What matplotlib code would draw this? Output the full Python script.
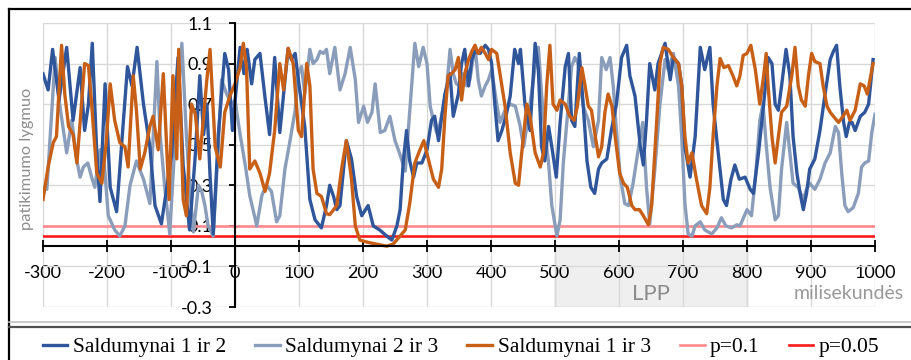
import matplotlib
matplotlib.use("Agg")
import matplotlib.pyplot as plt
from matplotlib.lines import Line2D
from matplotlib.patches import Rectangle
import numpy as np

# laikas (ms) ir patikimumo lygmuo kiekvienai porai
t12 = [-300, -292, -285, -275, -263, -253, -242, -235, -229, -223, -216, -211, -203, -195, -185,
       -168, -161, -153, -143, -133, -125, -115, -99, -89, -81, -71, -62, -55, -49, -44, -39, -34,
       -26, -16, -10, -4, 2, 8, 14, 19, 26, 31, 39, 47, 54, 62, 70, 83, 88, 94, 99, 109, 117, 125,
       135, 143, 148, 154, 159, 164, 174, 182, 190, 198, 208, 216, 226, 237, 245, 253, 258, 263,
       268, 273, 279, 284, 292, 300, 307, 312, 318, 323, 328, 336, 341, 349, 354, 359, 365, 370,
       375, 383, 391, 396, 401, 406, 411, 417, 424, 430, 437, 443, 446, 453, 461, 469, 474, 479,
       484, 490, 495, 502, 508, 516, 521, 526, 531, 538, 544, 550, 556, 562, 568, 573, 581, 588,
       596, 604, 612, 617, 625, 633, 638, 643, 648, 656, 661, 672, 680, 685, 693, 698, 703, 711,
       719, 727, 734, 742, 747, 755, 763, 768, 775, 781, 788, 797, 805, 810, 818, 826, 833, 839,
       844, 849, 854, 861, 867, 872, 878, 883, 888, 893, 898, 906, 914, 922, 930, 935, 940, 945,
       951, 955, 960, 964, 969, 977, 984, 990, 997]
v12 = [0.85, 0.77, 0.97, 0.72, 0.98, 0.62, 0.88, 0.57, 0.70, 1.00, 0.46, 0.22, 0.80, 0.29, 0.17,
       0.885, 0.79, 0.98, 0.70, 0.49, 0.20, 0.11, 0.45, 0.93, 0.40, 0.08, 0.45, 0.84, 0.55, 0.70,
       0.35, 0.06, 0.55, 0.95, 0.87, 0.57, 0.78, 0.98, 0.85, 0.97, 0.80, 0.92, 0.95, 0.73, 0.55,
       0.93, 0.56, 0.975, 0.92, 0.95, 0.82, 0.59, 0.23, 0.13, 0.09, 0.20, 0.30, 0.245, 0.18, 0.20,
       0.52, 0.43, 0.245, 0.15, 0.20, 0.10, 0.08, 0.05, 0.03, 0.10, 0.18, 0.42, 0.57, 0.42, 0.34,
       0.41, 0.41, 0.475, 0.62, 0.64, 0.52, 0.64, 0.75, 0.85, 0.64, 0.75, 0.90, 0.97, 0.79, 0.92,
       0.96, 0.95, 0.99, 0.97, 0.90, 0.70, 0.52, 0.57, 0.65, 0.74, 0.97, 0.90, 0.97, 0.70, 0.57,
       1.00, 0.87, 0.49, 0.42, 0.59, 0.49, 0.34, 0.61, 0.885, 0.95, 0.62, 0.59, 0.95, 0.70, 0.42,
       0.29, 0.26, 0.38, 0.41, 0.43, 0.57, 0.70, 0.93, 0.99, 0.84, 0.74, 0.50, 0.40, 0.62, 0.90,
       0.77, 0.90, 1.00, 0.82, 0.93, 0.90, 0.79, 0.49, 0.34, 0.54, 0.98, 0.87, 0.98, 0.70, 0.46,
       0.23, 0.20, 0.33, 0.40, 0.33, 0.34, 0.28, 0.26, 0.46, 0.70, 0.93, 0.90, 0.70, 0.67, 0.79,
       0.97, 0.84, 0.54, 0.36, 0.26, 0.18, 0.26, 0.38, 0.43, 0.57, 0.75, 0.92, 0.96, 0.99, 0.79,
       0.61, 0.54, 0.61, 0.61, 0.57, 0.64, 0.66, 0.70, 0.92]

t23 = [-300, -294, -281, -274, -263, -255, -247, -242, -237, -230, -224, -219, -211, -206, -198,
       -188, -180, -172, -164, -154, -143, -133, -122, -117, -110, -102, -94, -83, -76, -70, -65,
       -57, -52, -47, -42, -34, -26, -21, -13, -5, 0, 8, 16, 23, 34, 42, 49, 57, 65, 70, 78, 86, 94,
       99, 104, 109, 117, 122, 128, 133, 138, 143, 148, 156, 164, 172, 180, 188, 193, 201, 207,
       214, 219, 227, 234, 242, 250, 258, 266, 276, 281, 287, 294, 300, 305, 310, 315, 320, 326,
       331, 336, 341, 346, 352, 357, 362, 367, 375, 380, 385, 391, 396, 401, 409, 414, 422, 430,
       438, 445, 451, 456, 461, 469, 474, 479, 484, 490, 495, 503, 508, 513, 521, 526, 531, 536,
       544, 552, 560, 568, 573, 580, 586, 591, 596, 602, 609, 615, 622, 630, 637, 643, 648, 656,
       664, 672, 677, 685, 693, 698, 703, 708, 714, 719, 727, 734, 745, 753, 760, 767, 776, 784,
       789, 800, 807, 813, 820, 825, 830, 836, 844, 849, 854, 862, 867, 872, 880, 888, 893, 898,
       906, 914, 922, 930, 938, 943, 948, 953, 958, 966, 974, 979, 984, 990, 995, 1000]
v23 = [0.29, 0.28, 0.93, 0.70, 0.46, 0.62, 0.42, 0.34, 0.39, 0.41, 0.34, 0.29, 0.475, 0.475, 0.15,
       0.08, 0.05, 0.10, 0.30, 0.42, 0.33, 0.21, 0.91, 0.55, 0.30, 0.06, 0.50, 1.00, 0.55, 0.25,
       0.07, 0.30, 0.27, 0.20, 0.10, 0.05, 0.50, 0.82, 0.75, 0.70, 0.72, 0.55, 0.40, 0.25, 0.10,
       0.25, 0.30, 0.27, 0.12, 0.15, 0.38, 0.52, 0.67, 0.85, 0.885, 0.75, 0.97, 0.90, 0.92, 0.96,
       0.95, 0.97, 0.85, 0.98, 0.77, 0.85, 0.98, 0.82, 0.61, 0.69, 0.61, 0.66, 0.80, 0.56, 0.57,
       0.64, 0.52, 0.45, 0.37, 0.79, 1.00, 0.885, 0.98, 0.90, 0.69, 0.62, 0.56, 0.60, 0.69, 0.79,
       0.97, 0.85, 0.80, 0.79, 0.85, 0.79, 0.82, 0.99, 0.82, 0.74, 0.79, 0.82, 0.87, 0.70, 0.61,
       0.67, 0.70, 0.69, 0.60, 0.49, 0.59, 0.70, 0.885, 0.98, 0.75, 0.57, 0.41, 0.20, 0.05, 0.13,
       0.41, 0.70, 0.885, 0.93, 0.90, 0.69, 0.62, 0.49, 0.62, 0.93, 0.87, 0.93, 0.79, 0.57, 0.34,
       0.21, 0.20, 0.31, 0.475, 0.61, 0.29, 0.11, 0.38, 0.70, 0.92, 0.87, 0.95, 0.79, 0.54, 0.21,
       0.06, 0.05, 0.10, 0.12, 0.08, 0.06, 0.09, 0.14, 0.10, 0.09, 0.105, 0.10, 0.18, 0.15, 0.33,
       0.62, 0.70, 0.50, 0.29, 0.13, 0.15, 0.38, 0.61, 0.46, 0.31, 0.29, 0.23, 0.28, 0.31, 0.28,
       0.33, 0.41, 0.46, 0.59, 0.56, 0.36, 0.20, 0.17, 0.19, 0.26, 0.39, 0.41, 0.42, 0.56, 0.65]

t13 = [-300, -292, -284, -279, -271, -266, -260, -253, -247, -242, -235, -229, -224, -216, -208,
       -201, -195, -188, -180, -172, -167, -159, -154, -148, -141, -133, -128, -120, -112, -103,
       -97, -91, -88, -81, -76, -68, -62, -55, -44, -39, -31, -23, -16, -8, 0, 8, 13, 18, 23, 31,
       39, 47, 54, 62, 70, 76, 83, 91, 99, 104, 112, 117, 122, 128, 135, 143, 148, 159, 167, 174,
       182, 188, 195, 206, 221, 237, 247, 258, 266, 273, 281, 289, 295, 302, 310, 318, 323, 328,
       333, 338, 344, 349, 354, 359, 365, 370, 375, 380, 385, 391, 396, 401, 409, 414, 422, 430,
       438, 443, 448, 456, 461, 469, 477, 482, 487, 492, 497, 503, 508, 516, 523, 530, 535, 542,
       547, 552, 557, 563, 568, 573, 578, 583, 589, 594, 601, 607, 613, 620, 625, 632, 638, 646,
       651, 659, 664, 669, 677, 685, 693, 698, 703, 708, 714, 721, 729, 737, 742, 747, 753, 758,
       764, 771, 778, 784, 789, 794, 800, 806, 813, 820, 826, 830, 833, 839, 844, 849, 854, 862,
       870, 875, 880, 885, 891, 896, 901, 906, 914, 919, 925, 930, 935, 943, 950, 956, 961, 969,
       977, 983, 988, 997]
v13 = [0.23, 0.39, 0.51, 0.54, 0.99, 0.75, 0.59, 0.55, 0.41, 0.61, 0.90, 0.89, 0.70, 0.36, 0.31,
       0.52, 0.80, 0.62, 0.51, 0.49, 0.39, 0.84, 0.67, 0.38, 0.46, 0.59, 0.64, 0.475, 0.85, 0.23,
       0.84, 0.43, 0.97, 0.23, 0.15, 0.70, 0.65, 0.43, 0.82, 0.97, 0.49, 0.39, 0.66, 0.74, 0.80,
       0.88, 1.00, 0.88, 0.38, 0.42, 0.36, 0.27, 0.36, 0.57, 0.90, 0.77, 0.975, 0.90, 0.57, 0.54,
       0.90, 0.79, 0.38, 0.26, 0.245, 0.16, 0.155, 0.20, 0.39, 0.52, 0.33, 0.10, 0.03, 0.02, 0.01,
       0.00, 0.01, 0.05, 0.08, 0.21, 0.41, 0.475, 0.52, 0.43, 0.33, 0.29, 0.38, 0.64, 0.84, 0.85,
       0.87, 0.93, 0.72, 0.85, 0.92, 0.96, 0.99, 0.95, 0.98, 0.95, 0.92, 0.97, 0.95, 0.85, 0.69,
       0.46, 0.31, 0.30, 0.46, 0.70, 0.64, 0.46, 0.39, 0.46, 0.79, 0.99, 0.70, 0.67, 0.72, 0.70,
       0.64, 0.62, 0.69, 0.88, 0.79, 0.69, 0.67, 0.54, 0.44, 0.49, 0.66, 0.75, 0.69, 0.54, 0.36,
       0.31, 0.29, 0.20, 0.18, 0.18, 0.15, 0.105, 0.20, 0.62, 0.90, 0.98, 0.97, 0.93, 0.90, 0.79,
       0.54, 0.41, 0.46, 0.33, 0.20, 0.16, 0.29, 0.54, 0.79, 0.925, 0.88, 0.89, 0.84, 0.79, 0.84,
       0.94, 0.95, 0.99, 0.87, 0.70, 0.84, 0.95, 0.79, 0.54, 0.41, 0.54, 0.66, 0.69, 0.84, 0.98,
       0.79, 0.72, 0.69, 0.84, 0.95, 0.91, 0.90, 0.79, 0.69, 0.66, 0.64, 0.61, 0.64, 0.67, 0.62,
       0.67, 0.80, 0.79, 0.75, 0.90]

p_levels = [0.1, 0.05]
x_ticks = list(range(-300, 1001, 100))
y_ticks = [-0.3, -0.1, 0.1, 0.3, 0.5, 0.7, 0.9, 1.1]
lpp_window = (500, 800)

c12 = '#2f559b'
c23 = '#8a9dba'
c13 = '#c85f17'
c_p10 = '#ff8a8c'
c_p05 = '#ff1a1a'

plt.rcParams['font.family'] = ['Lato', 'DejaVu Sans']

fig = plt.figure(figsize=(9.11, 3.6), dpi=100)
ax = fig.add_axes([43 / 911, 53 / 360, 832 / 911, 284 / 360])
ax.set_xlim(-300, 1000)
ax.set_ylim(-0.3, 1.1)

ax.set_axisbelow(True)
ax.grid(color='#d9d9d9', lw=1.0)

# LPP langas po x ašimi
ax.add_patch(Rectangle((lpp_window[0], -0.3), lpp_window[1] - lpp_window[0], 0.3,
                       fc='#efefef', ec='#d4d4d4', lw=1.0, zorder=0.3))
ax.text(sum(lpp_window) / 2, -0.235, 'LPP', ha='center', va='center',
        fontsize=16, color='#8c8c8c')

lw = 2.4
l23, = ax.plot(t23, v23, color=c23, lw=lw, solid_joinstyle='round', zorder=3)
l12, = ax.plot(t12, v12, color=c12, lw=lw, solid_joinstyle='round', zorder=4)
l13, = ax.plot(t13, v13, color=c13, lw=lw, solid_joinstyle='round', zorder=5)
lp1 = ax.axhline(p_levels[0], color=c_p10, lw=1.9, zorder=2.5)
lp2 = ax.axhline(p_levels[1], color=c_p05, lw=1.9, zorder=2.5)

# ašys kertasi ties nuliu
for s in ['top', 'right']:
    ax.spines[s].set_visible(False)
ax.spines['left'].set_position(('data', 0))
ax.spines['bottom'].set_position(('data', 0))
for s in ['left', 'bottom']:
    ax.spines[s].set_color('black')
    ax.spines[s].set_linewidth(1.5)
    ax.spines[s].set_zorder(6)

ax.set_xticks(x_ticks)
ax.set_xticklabels([str(x) for x in x_ticks])
ax.set_yticks(y_ticks)
ax.set_yticklabels(['%.1f' % y for y in y_ticks])
ax.tick_params(axis='x', direction='inout', length=9, width=1.3, pad=9, labelsize=13)
ax.tick_params(axis='y', direction='out', length=4, width=1.3, pad=12, labelsize=13)

ax.text(1.034, -0.235, 'milisekundės', transform=ax.get_yaxis_transform(),
        ha='right', va='center', fontsize=14, color='#999999')
fig.text(27 / 911, (360 - 159) / 360, 'patikimumo lygmuo', rotation=90,
         ha='center', va='center', fontsize=11.8, color='#8c8c8c')

# rėmelis ir legendos skirtukas
fig.add_artist(Line2D([8.5 / 911, 1], [(360 - 8.5) / 360] * 2, color='black', lw=1.6,
                      transform=fig.transFigure))
fig.add_artist(Line2D([8.5 / 911] * 2, [0, (360 - 8.5) / 360], color='black', lw=1.6,
                      transform=fig.transFigure))
fig.add_artist(Line2D([8.5 / 911, 1], [(360 - 321.5) / 360] * 2, color='#c0c0c0', lw=1.2,
                      transform=fig.transFigure))
fig.add_artist(Line2D([8.5 / 911, 1], [(360 - 326.5) / 360] * 2, color='#505050', lw=1.6,
                      transform=fig.transFigure))

handles = [l12, l23, l13, lp1, lp2]
labels = ['Saldumynai 1 ir 2', 'Saldumynai 2 ir 3', 'Saldumynai 1 ir 3', 'p=0.1', 'p=0.05']
fig.legend(handles, labels, loc='center', bbox_to_anchor=(461 / 911, 13 / 360), ncol=5,
           frameon=False, prop={'family': 'Liberation Serif', 'size': 15.5},
           handlelength=1.15, handletextpad=0.25, columnspacing=1.35, borderaxespad=0)

fig.savefig('out.png', dpi=100)
